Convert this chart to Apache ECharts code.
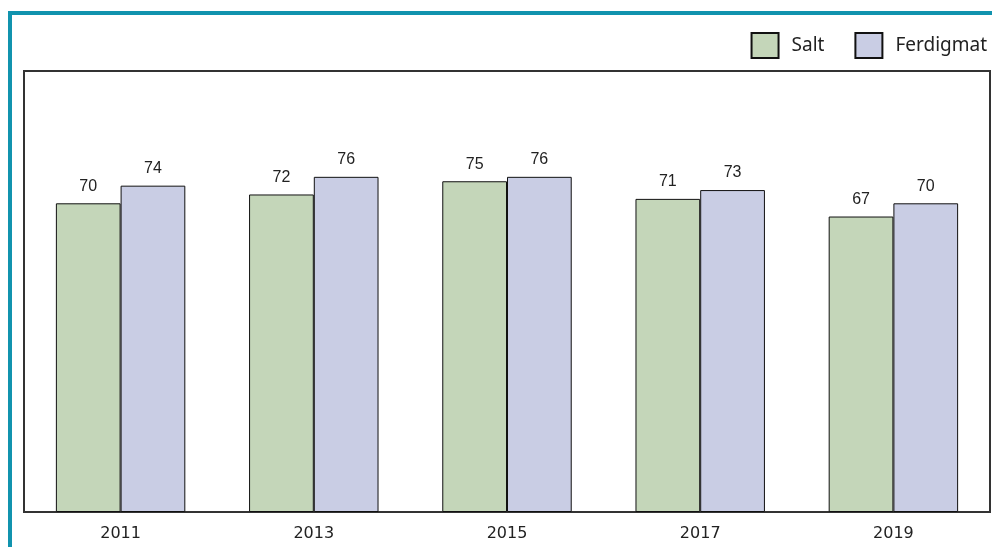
<!DOCTYPE html>
<html>
<head>
<meta charset="utf-8">
<script src="https://cdn.jsdelivr.net/npm/echarts@6/dist/echarts.min.js"></script>
<style>
  html, body { margin: 0; padding: 0; background: #fff; }
  .frame {
    position: absolute; left: 8px; top: 11px; right: 0; bottom: 0;
    border-top: 4px solid #1193ae; border-left: 4px solid #1193ae;
  }
  #chart { position: absolute; left: 0; top: 0; width: 992px; height: 547px; }
</style>
</head>
<body>
<div class="frame"></div>
<div id="chart"></div>
<script>
const years = ['2011', '2013', '2015', '2017', '2019'];
const salt = [70, 72, 75, 71, 67];
const ferdigmat = [74, 76, 76, 73, 70];

const chart = echarts.init(document.getElementById('chart'));

const labelStyle = {
  show: true,
  position: 'top',
  distance: 9,
  color: '#222',
  fontSize: 16,
  fontFamily: 'Liberation Sans'
};

chart.setOption({
  animation: false,
  legend: {
    right: 0,
    top: 27,
    itemWidth: 27,
    itemHeight: 25,
    itemGap: 30,
    icon: 'rect',
    textStyle: {
      fontSize: 19,
      color: '#222',
      fontFamily: 'Noto Sans',
      padding: [0, 0, 0, 8]
    },
    data: ['Salt', 'Ferdigmat']
  },
  grid: {
    show: true,
    left: 24,
    right: 2,
    top: 71,
    bottom: 35,
    borderColor: '#333',
    borderWidth: 2
  },
  xAxis: {
    type: 'category',
    data: years,
    axisLine: { show: false },
    axisTick: { show: false },
    axisLabel: {
      margin: 14,
      fontSize: 16,
      color: '#222',
      fontFamily: 'DejaVu Sans'
    }
  },
  yAxis: {
    type: 'value',
    min: 0,
    max: 100,
    show: false,
    splitLine: { show: false }
  },
  series: [
    {
      name: 'Salt',
      type: 'bar',
      data: salt,
      barGap: '0%',
      barCategoryGap: '33%',
      itemStyle: { color: '#c4d6b9', borderColor: '#111', borderWidth: 1 },
      label: labelStyle
    },
    {
      name: 'Ferdigmat',
      type: 'bar',
      data: ferdigmat,
      itemStyle: { color: '#c9cde4', borderColor: '#111', borderWidth: 1 },
      label: labelStyle
    }
  ]
});
</script>
</body>
</html>
